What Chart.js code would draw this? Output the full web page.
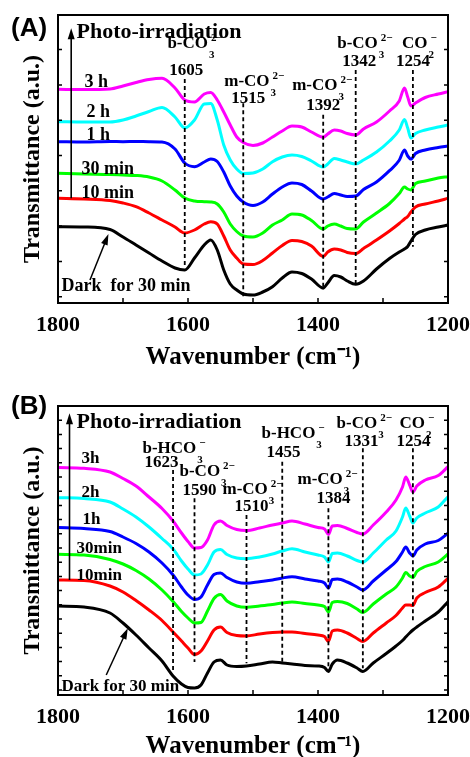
<!DOCTYPE html>
<html>
<head>
<meta charset="utf-8">
<script src="https://cdn.jsdelivr.net/npm/chart.js@4.4.0/dist/chart.umd.min.js"></script>
<style>
  html, body { margin: 0; padding: 0; background: #fff; overflow: hidden; }
  canvas { position: absolute; left: 0; }
  #chartA { top: 0; }
  #chartB { top: 378px; }
</style>
</head>
<body>
<canvas id="chartA" width="470" height="378"></canvas>
<canvas id="chartB" width="470" height="400"></canvas>
<script>
// ---- panel A: CO2 adsorption, spectra offset for clarity ----
const wnA = [1800, 1760, 1720, 1700, 1680, 1660, 1640, 1620, 1605, 1590, 1575, 1565, 1555, 1545, 1535,
  1525, 1515, 1500, 1485, 1470, 1455, 1440, 1425, 1410, 1392, 1385, 1375, 1365, 1355, 1342, 1330,
  1310, 1290, 1275, 1267, 1262, 1257, 1250, 1235, 1215, 1200];
const darkA = [7.0, 6.97, 6.72, 5.97, 5.17, 4.37, 3.57, 2.87, 2.67, 3.87, 5.17, 5.67, 4.67, 2.67, 1.27,
  0.67, 0.27, 0.17, 0.47, 1.0, 1.87, 2.47, 2.32, 1.77, 0.87, 1.37, 2.12, 1.97, 1.57, 1.24, 1.57,
  2.77, 3.82, 4.47, 4.77, 5.02, 5.57, 6.22, 6.67, 6.97, 7.17];
const min10A = [9.84, 9.77, 9.62, 9.37, 9.0, 8.37, 7.67, 6.97, 6.37, 6.67, 7.27, 7.5, 7.27, 6.07, 4.67,
  3.87, 3.27, 3.22, 3.62, 4.37, 5.12, 5.62, 5.52, 5.07, 4.02, 4.47, 4.77, 4.67, 4.42, 4.32, 4.82,
  5.67, 6.57, 7.32, 7.77, 8.02, 8.47, 8.97, 9.27, 9.57, 9.84];
const min30A = [12.34, 12.27, 12.22, 12.17, 12.12, 11.97, 11.57, 10.67, 9.87, 9.57, 9.5, 9.47, 9.27, 8.47, 7.27,
  6.52, 6.07, 5.97, 6.37, 7.17, 7.67, 8.27, 8.17, 7.62, 6.77, 7.07, 7.27, 7.07, 6.82, 6.77, 7.47,
  8.37, 9.32, 10.31, 10.97, 10.77, 10.67, 11.32, 11.57, 11.87, 12.0];
const h1A = [15.5, 15.47, 15.52, 15.5, 15.52, 15.5, 15.47, 14.77, 13.37, 13.0, 13.47, 13.77, 13.52, 12.47, 11.07,
  10.07, 9.47, 9.12, 9.47, 10.27, 10.97, 11.37, 11.22, 10.57, 9.77, 9.97, 10.32, 10.17, 10.02, 10.07, 10.72,
  11.47, 12.6, 13.64, 14.67, 14.07, 13.77, 14.32, 14.67, 14.92, 15.07];
const h2A = [17.5, 17.47, 17.47, 17.67, 18.07, 18.52, 18.92, 17.97, 16.87, 17.67, 19.27, 19.32, 17.67, 15.17, 13.67,
  12.77, 12.32, 12.37, 12.77, 13.5, 13.97, 14.17, 14.02, 13.57, 12.97, 13.27, 13.82, 13.67, 13.47, 13.27, 13.67,
  14.47, 15.57, 16.67, 17.72, 16.87, 15.87, 16.32, 16.67, 16.97, 17.17];
const h3A = [20.74, 20.72, 20.77, 21.07, 21.42, 21.72, 21.84, 20.87, 19.67, 19.47, 20.27, 20.42, 19.67, 18.47, 17.17,
  15.97, 15.42, 15.12, 15.37, 15.97, 16.57, 17.07, 16.97, 16.47, 15.94, 16.27, 16.67, 16.57, 16.32, 16.17, 16.77,
  17.47, 18.57, 19.57, 20.87, 19.97, 19.07, 19.37, 19.92, 20.27, 20.5];
const namesA = ['Dark  for 30 min', '10 min', '30 min', '1 h', '2 h', '3 h'];
const peaksA = [1605, 1515, 1392, 1342, 1254];
const dashTopA = [21.77, 19.34, 18.2, 22.67, 22.67];
const dashEndA = [2.87, 0.0, 0.67, 1.34, 5.0];

// ---- panel B ----
const wnB = [1800, 1760, 1720, 1700, 1680, 1660, 1640, 1623, 1610, 1600, 1590, 1580, 1570, 1560, 1550,
  1540, 1525, 1510, 1490, 1470, 1455, 1440, 1420, 1400, 1390, 1384, 1378, 1370, 1355, 1340, 1331,
  1315, 1295, 1280, 1270, 1265, 1259, 1254, 1248, 1235, 1215, 1200];
const darkB = [8.4, 8.3, 7.7, 6.7, 5.5, 4.2, 2.9, 1.4, 0.6, 0.25, 0.2, 0.5, 1.7, 2.8, 3.0,
  2.5, 2.35, 2.4, 2.6, 2.8, 2.7, 2.6, 2.45, 2.4, 2.25, 1.85, 2.6, 3.0, 2.7, 2.2, 1.85,
  2.7, 3.65, 4.4, 4.95, 5.3, 5.7, 6.0, 6.3, 6.9, 7.8, 8.83];
const min10B = [11.0, 10.95, 10.4, 9.8, 8.95, 8.0, 6.95, 5.8, 4.9, 4.2, 3.55, 3.9, 4.9, 6.0, 6.3,
  5.75, 5.45, 5.4, 5.6, 5.75, 5.8, 5.8, 5.65, 5.5, 5.35, 4.85, 5.9, 6.0, 5.7, 5.15, 4.85,
  5.7, 6.7, 7.45, 8.2, 8.5, 8.5, 8.45, 9.2, 9.75, 10.3, 11.17];
const min30B = [13.57, 13.5, 13.05, 12.6, 11.95, 11.1, 10.0, 8.85, 7.85, 7.2, 6.7, 6.75, 7.9, 9.15, 9.55,
  8.9, 8.4, 8.27, 8.4, 8.55, 8.7, 8.8, 8.65, 8.5, 8.35, 7.8, 8.75, 8.85, 8.65, 8.1, 7.75,
  8.6, 9.6, 10.3, 11.2, 11.75, 11.4, 11.25, 11.85, 12.35, 12.8, 13.6];
const h1B = [16.25, 16.15, 15.85, 15.3, 14.65, 13.8, 12.7, 11.5, 10.3, 9.5, 9.05, 9.3, 10.5, 11.55, 11.7,
  11.25, 10.8, 10.67, 10.83, 11.0, 11.2, 11.33, 11.1, 10.9, 10.7, 10.2, 11.05, 11.1, 10.8, 10.3, 10.0,
  10.9, 12.0, 12.85, 13.8, 14.3, 13.7, 13.4, 14.0, 14.6, 14.95, 15.67];
const h2B = [19.23, 19.15, 18.8, 18.1, 17.3, 16.3, 15.15, 14.1, 12.9, 12.1, 11.5, 11.6, 12.5, 13.8, 14.05,
  13.55, 13.2, 13.13, 13.3, 13.6, 13.9, 14.13, 13.8, 13.5, 13.3, 12.8, 13.65, 13.7, 13.4, 12.95, 12.8,
  13.7, 15.0, 15.9, 17.3, 18.2, 17.4, 16.7, 17.2, 17.7, 18.3, 19.33];
const h3B = [22.25, 22.17, 21.8, 21.15, 20.4, 19.3, 18.15, 16.9, 15.7, 14.85, 14.2, 14.25, 15.0, 16.5, 16.9,
  16.45, 16.05, 15.95, 16.2, 16.5, 16.7, 16.9, 16.6, 16.25, 16.1, 15.55, 16.4, 16.45, 16.15, 15.75, 15.6,
  16.5, 17.8, 19.0, 20.3, 21.3, 20.5, 19.8, 20.4, 21.0, 21.45, 22.33];
const namesB = ['Dark for 30 min', '10min', '30min', '1h', '2h', '3h'];
const peaksB = [1623, 1590, 1510, 1455, 1384, 1331, 1254];
const dashTopB = [22.0, 19.17, 17.5, 22.83, 18.17, 24.17, 24.17];
const dashEndB = [1.83, 2.8, 2.67, 2.83, 2.17, 2.17, 6.83];

const SERIF = '"Liberation Serif", "Times New Roman", serif';
const COLORS = ['#000000', '#ff0000', '#00ff00', '#0000ff', '#00ffff', '#ff00ff'];

// text placement, in axis units (wavenumber, a.u.)
const notesA = {
  tag: '(A)', labelSize: 18,
  photo: { at: [1771.6, 25.87], x: 1779.7, from: 9.84, to: 26.84 },
  dark: { from: [1750.8, 1.67], to: [1722.4, 6.27] },
  seriesAt: [[1794.6, 0.57], [1763.9, 9.87], [1763.9, 12.27], [1756.2, 15.67], [1756.2, 17.97], [1759.3, 20.97]],
  bands: [
    { name: ['b-CO', '3', '2\u2212'], at: [1631.7, 24.87], num: [1628.7, 22.17] },
    { name: ['m-CO', '3', '2\u2212'], at: [1544.2, 21.07], num: [1533.4, 19.37] },
    { name: ['m-CO', '3', '2\u2212'], at: [1439.7, 20.67], num: [1418.2, 18.67] },
    { name: ['b-CO', '3', '2\u2212'], at: [1370.5, 24.87], num: [1362.8, 23.07] },
    { name: ['CO', '2', '\u2212'], at: [1270.7, 24.87], num: [1279.9, 23.07] }
  ]
};
const notesB = {
  tag: '(B)', labelSize: 17,
  photo: { at: [1771.5, 26.2], x: 1782.3, from: 11.0, to: 27.67 },
  dark: { from: [1725.8, 1.5], to: [1692.6, 6.17] },
  seriesAt: [[1794.6, -0.1], [1771.5, 11.0], [1771.5, 13.7], [1762.3, 16.6], [1763.8, 19.3], [1763.8, 22.7]],
  bands: [
    { name: ['b-HCO', '3', '\u2212'], at: [1670, 23.7], num: [1666.9, 22.3] },
    { name: ['b-CO', '3', '2\u2212'], at: [1613.1, 21.4], num: [1608.5, 19.5] },
    { name: ['m-CO', '3', '2\u2212'], at: [1546.9, 19.6], num: [1528.5, 17.9] },
    { name: ['b-HCO', '3', '\u2212'], at: [1486.9, 25.2], num: [1479.2, 23.3] },
    { name: ['m-CO', '3', '2\u2212'], at: [1431.5, 20.6], num: [1402.3, 18.7] },
    { name: ['b-CO', '3', '2\u2212'], at: [1371.5, 26.2], num: [1359.2, 24.4] },
    { name: ['CO', '2', '\u2212'], at: [1274.6, 26.2], num: [1279.2, 24.4] }
  ]
};

// closed box with short inward ticks
const framePlugin = {
  id: 'frame',
  afterDatasetsDraw(chart, args, opts) {
    const { ctx, chartArea: a, scales: { x, y } } = chart;
    ctx.save();
    ctx.strokeStyle = '#000';
    ctx.lineWidth = 1.5;
    ctx.beginPath();
    for (let w = 1200; w <= 1800; w += 100) {
      const px = x.getPixelForValue(w);
      ctx.moveTo(px, a.bottom);
      ctx.lineTo(px, a.bottom - 5);
    }
    for (let v = 0; v < y.max - 0.3; v += opts.yStep) {
      const py = y.getPixelForValue(v);
      ctx.moveTo(a.left, py);
      ctx.lineTo(a.left + 4, py);
      ctx.moveTo(a.right, py);
      ctx.lineTo(a.right - 4, py);
    }
    ctx.stroke();
    ctx.lineWidth = 2;
    ctx.strokeRect(a.left, a.top, a.right - a.left, a.bottom - a.top);
    ctx.restore();
  }
};

function arrow(ctx, x1, y1, x2, y2, width) {
  const ang = Math.atan2(y2 - y1, x2 - x1);
  const len = 11, half = 3.5;
  ctx.lineWidth = width;
  ctx.beginPath();
  ctx.moveTo(x1, y1);
  ctx.lineTo(x2 - Math.cos(ang) * len * 0.8, y2 - Math.sin(ang) * len * 0.8);
  ctx.stroke();
  ctx.beginPath();
  ctx.moveTo(x2, y2);
  ctx.lineTo(x2 - Math.cos(ang) * len - Math.sin(ang) * half, y2 - Math.sin(ang) * len + Math.cos(ang) * half);
  ctx.lineTo(x2 - Math.cos(ang) * len + Math.sin(ang) * half, y2 - Math.sin(ang) * len - Math.cos(ang) * half);
  ctx.closePath();
  ctx.fill();
}

function formula(ctx, x, y, [main, sub, sup]) {
  ctx.font = `bold 17px ${SERIF}`;
  ctx.fillText(main, x, y);
  const sx = x + ctx.measureText(main).width + 1;
  ctx.font = `bold 11px ${SERIF}`;
  ctx.fillText(sub, sx, y + 10);
  ctx.fillText(sup, sx + 2, y - 7);
}

function makeNotes(cfg, names, peaks) {
  return {
    id: 'notes',
    afterDraw(chart) {
      const { ctx, scales: { x, y } } = chart;
      const X = w => x.getPixelForValue(w);
      const Y = v => y.getPixelForValue(v);
      ctx.save();
      ctx.fillStyle = '#000';
      ctx.strokeStyle = '#000';
      ctx.textAlign = 'left';
      ctx.textBaseline = 'alphabetic';

      ctx.font = 'bold 26px "Liberation Sans", Arial, sans-serif';
      ctx.fillText(cfg.tag, 11, 36);

      ctx.font = `bold 22px ${SERIF}`;
      ctx.fillText('Photo-irradiation', X(cfg.photo.at[0]), Y(cfg.photo.at[1]));
      arrow(ctx, X(cfg.photo.x), Y(cfg.photo.from), X(cfg.photo.x), Y(cfg.photo.to), 1.6);
      arrow(ctx, X(cfg.dark.from[0]), Y(cfg.dark.from[1]), X(cfg.dark.to[0]), Y(cfg.dark.to[1]), 1.5);

      ctx.font = `bold ${cfg.labelSize}px ${SERIF}`;
      names.forEach((n, i) => ctx.fillText(n, X(cfg.seriesAt[i][0]), Y(cfg.seriesAt[i][1])));

      cfg.bands.forEach((b, i) => {
        formula(ctx, X(b.at[0]), Y(b.at[1]), b.name);
        ctx.font = `bold 17px ${SERIF}`;
        ctx.fillText(String(peaks[i]), X(b.num[0]), Y(b.num[1]));
      });
      ctx.restore();
    }
  };
}

function buildPanel(id, wn, series, names, peaks, dashTop, dashEnd, cfg, layout) {
  const curves = series.map((vals, i) => ({
    data: vals.map((v, k) => ({ x: wn[k], y: v })),
    borderColor: COLORS[i],
    borderWidth: 3,
    pointRadius: 0,
    cubicInterpolationMode: 'monotone',
    order: 1
  }));
  const dashes = peaks.map((w, i) => ({
    data: [{ x: w, y: dashTop[i] }, { x: w, y: dashEnd[i] }],
    borderColor: '#000',
    borderWidth: 1.8,
    borderDash: [4, 3],
    pointRadius: 0,
    tension: 0,
    order: 0
  }));
  return new Chart(document.getElementById(id), {
    type: 'line',
    data: { datasets: dashes.concat(curves) },
    plugins: [framePlugin, makeNotes(cfg, names, peaks)],
    options: {
      responsive: false,
      animation: false,
      devicePixelRatio: 1,
      layout: { padding: { top: layout.top, right: 21, left: 0, bottom: 0 } },
      plugins: {
        legend: { display: false },
        tooltip: { enabled: false },
        frame: { yStep: layout.yStep }
      },
      scales: {
        x: {
          type: 'linear', reverse: true, min: 1200, max: 1800,
          // tick marks are drawn by the frame plugin; the tick length only spaces the labels
          grid: { display: false, drawTicks: true, tickLength: 9 },
          border: { display: false },
          ticks: {
            stepSize: 200, padding: 0, color: '#000',
            font: { family: SERIF, size: 22, weight: 'bold' },
            callback: v => String(v)
          },
          title: {
            display: true, text: 'Wavenumber (cm\u207B\u00B9)', color: '#000',
            font: { family: SERIF, size: 25, weight: 'bold' },
            padding: { top: 0, bottom: layout.titlePad }
          },
          afterFit: s => { s.height = layout.xHeight; }
        },
        y: {
          type: 'linear', min: layout.yMin, max: layout.yMax,
          grid: { display: false, drawTicks: false },
          border: { display: false },
          ticks: { display: false },
          title: {
            display: true, text: 'Transmittance (a.u.)', color: '#000',
            font: { family: SERIF, size: 24, weight: 'bold' },
            padding: { top: 18, bottom: 0 }
          },
          afterFit: s => { s.width = 58; }
        }
      }
    }
  });
}

buildPanel('chartA', wnA, [darkA, min10A, min30A, h1A, h2A, h3A], namesA, peaksA, dashTopA, dashEndA, notesA,
  { top: 15, xHeight: 75, titlePad: 5, yMin: -0.63, yMax: 28.17, yStep: 3.53 });
buildPanel('chartB', wnB, [darkB, min10B, min30B, h1B, h2B, h3B], namesB, peaksB, dashTopB, dashEndB, notesB,
  { top: 28, xHeight: 83, titlePad: 16, yMin: -0.5, yMax: 28.4, yStep: 1.42 });
</script>
</body>
</html>
